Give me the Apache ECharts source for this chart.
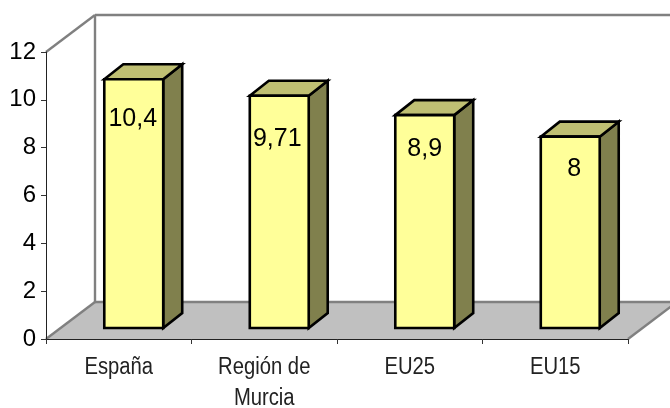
<!DOCTYPE html>
<html>
<head>
<meta charset="utf-8">
<style>html,body{margin:0;padding:0;background:#fff}#chart{width:670px;height:408px}</style>
<script src="https://cdn.jsdelivr.net/npm/echarts@6/dist/echarts.min.js"></script>
</head>
<body>
<div id="chart"></div>
<script>
var categories = ['España', 'Región de\nMurcia', 'EU25', 'EU15'];
var values = [10.4, 9.71, 8.9, 8];
var yTicks = { min: 0, max: 12, interval: 2 };

// how far below the bar top each label sits in the original
var labelDrop = [40, 43, 34, 32];
var labelShift = [-1, -2, 0, 4];

// fake 3d, in pixels
var wallX = 49, wallY = 37;
var baseX = 15, baseY = 11;
var sideX = 19, sideY = 15;

var chart = echarts.init(document.getElementById('chart'));

function poly(points, fill, stroke, lw) {
  return {
    type: 'polygon',
    shape: { points: points },
    style: { fill: fill, stroke: stroke, lineWidth: lw, lineJoin: 'miter' }
  };
}

function renderWalls(params) {
  var c = params.coordSys;
  var l = c.x, t = c.y, r = c.x + c.width, b = c.y + c.height;
  var gray = '#808080';
  function seg(x1, y1, x2, y2) {
    return { type: 'line', shape: { x1: x1, y1: y1, x2: x2, y2: y2 }, style: { stroke: gray, lineWidth: 2.4 } };
  }
  return {
    type: 'group',
    children: [
      poly([[l, b], [l + wallX, b - wallY], [r + wallX, b - wallY], [r, b]], '#c0c0c0', 'none', 0),
      seg(l, t, l + wallX, t - wallY),
      seg(l + wallX, t - wallY, r + wallX, t - wallY),
      seg(l + wallX, t - wallY, l + wallX, b - wallY),
      seg(l, b, l + wallX, b - wallY),
      seg(l + wallX, b - wallY, r + wallX, b - wallY),
      seg(r, b, r + wallX, b - wallY)
    ]
  };
}

function renderBar(params, api) {
  var i = api.value(0), v = api.value(1);
  var w = api.size([1, 0])[0] * 0.405;
  var top = api.coord([i, v]), bottom = api.coord([i, 0]);
  var x0 = top[0] + baseX - w / 2, x1 = x0 + w;
  var y0 = top[1] - baseY, y1 = bottom[1] - baseY;
  var edge = '#000';
  return {
    type: 'group',
    children: [
      poly([[x1, y0], [x1 + sideX, y0 - sideY], [x1 + sideX, y1 - sideY], [x1, y1]], '#80804d', edge, 2.6),
      poly([[x0, y0], [x0 + sideX, y0 - sideY], [x1 + sideX, y0 - sideY], [x1, y0]], '#bfbf73', edge, 2.6),
      poly([[x0, y0], [x1, y0], [x1, y1], [x0, y1]], '#ffff99', edge, 2.6),
      {
        type: 'text',
        style: {
          x: (x0 + x1) / 2 + labelShift[i],
          y: y0 + labelDrop[i],
          text: String(v).replace('.', ','),
          fill: '#000',
          font: '25px "Liberation Sans", Arial, sans-serif',
          align: 'center',
          verticalAlign: 'middle'
        }
      },
      // category names are squeezed sideways in the original, axisLabel can't do that
      {
        type: 'text',
        x: bottom[0],
        y: bottom[1] + 13,
        scaleX: 0.88,
        style: {
          text: categories[i],
          fill: '#222',
          font: '23px "Liberation Sans", Arial, sans-serif',
          lineHeight: 31,
          align: 'center',
          verticalAlign: 'top'
        }
      }
    ]
  };
}

chart.setOption({
  animation: false,
  backgroundColor: '#fff',
  grid: { left: 46, right: 42, top: 52, bottom: 69 },
  xAxis: {
    type: 'category',
    data: categories,
    z: 5,
    axisTick: { show: true, alignWithLabel: false, length: 5, lineStyle: { color: '#333' } },
    axisLine: { show: true, lineStyle: { color: '#222', width: 1 } },
    axisLabel: { show: false }
  },
  yAxis: {
    type: 'value',
    min: yTicks.min,
    max: yTicks.max,
    interval: yTicks.interval,
    z: 5,
    splitLine: { show: false },
    axisTick: { show: true, length: 5, lineStyle: { color: '#333' } },
    axisLine: { show: true, lineStyle: { color: '#222', width: 1 } },
    axisLabel: {
      color: '#000',
      fontFamily: '"Liberation Sans", Arial, sans-serif',
      fontSize: 24,
      margin: 10,
      verticalAlign: 'middle',
      verticalAlignMinLabel: 'middle',
      verticalAlignMaxLabel: 'middle',
      padding: [5, 0, 0, 0]
    }
  },
  series: [
    { type: 'custom', silent: true, z: 1, clip: false, renderItem: renderWalls, data: [[0, 0]] },
    {
      type: 'custom',
      z: 3,
      clip: false,
      renderItem: renderBar,
      encode: { x: 0, y: 1 },
      data: values.map(function (v, i) { return [i, v]; })
    }
  ]
});
</script>
</body>
</html>
